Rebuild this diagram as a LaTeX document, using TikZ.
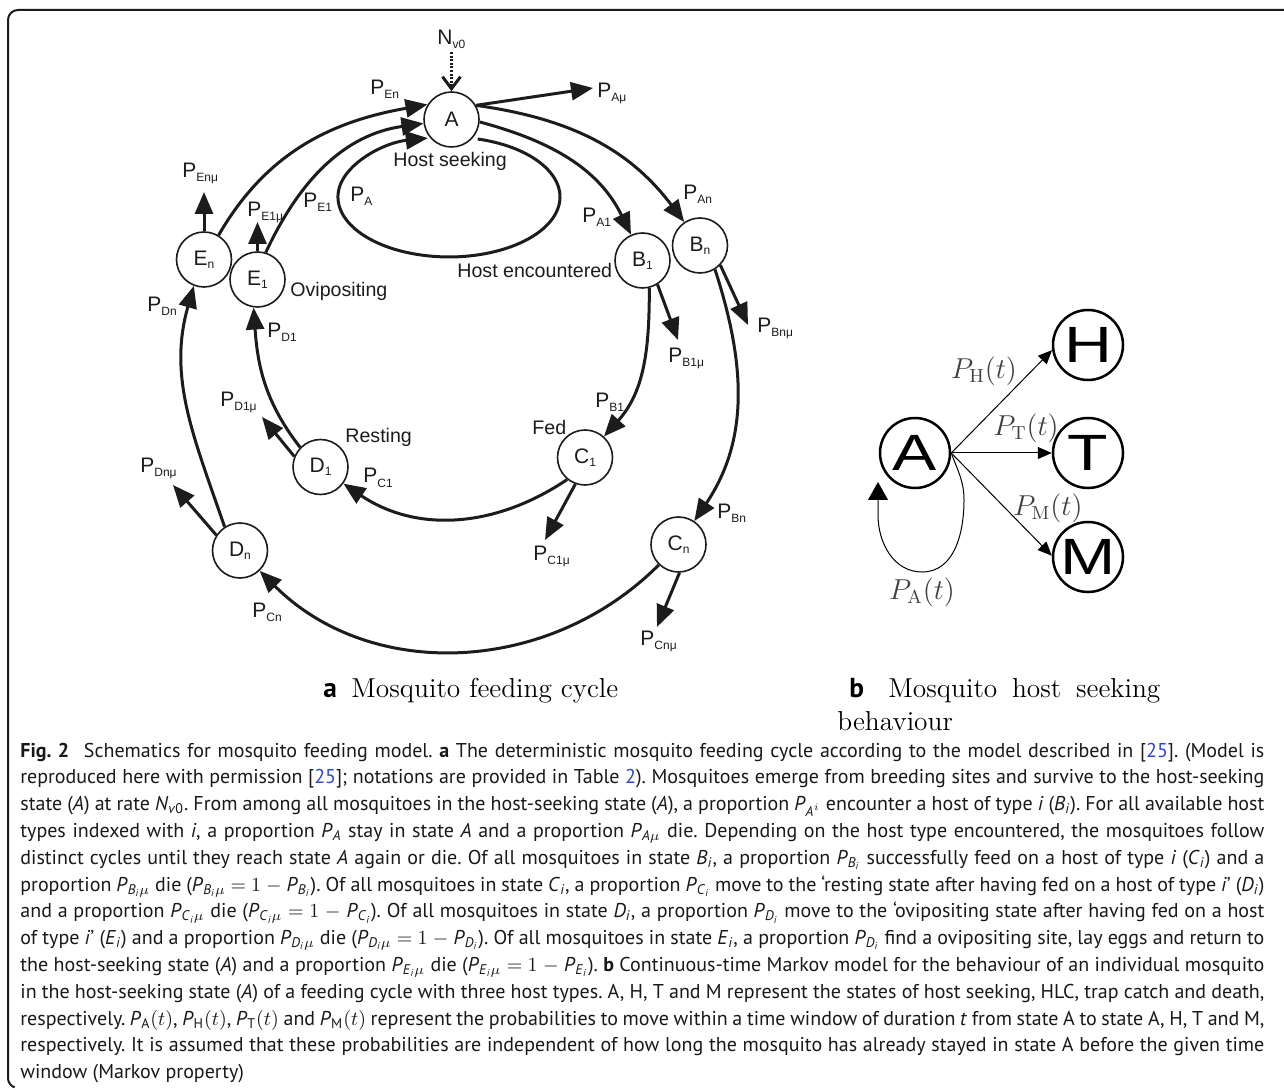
\documentclass[tikz,border=0pt]{standalone}
\usepackage{fontspec}
\newfontfamily\arialf{Liberation Sans}
\newfontfamily\ptsans{PT Sans}
\usetikzlibrary{arrows.meta}
\frenchspacing
\definecolor{ink}{RGB}{28,28,28}
\definecolor{linkblue}{RGB}{45,70,215}
\newcommand\Pl[1]{P\raisebox{-2pt}{\fontsize{6}{6}\selectfont #1}}
\newcommand\Sl[2]{#1\raisebox{-1.5pt}{\fontsize{6}{6}\selectfont #2}}
\newcommand\iP{\textit{P}}
\newcommand\sbt[1]{\textsubscript{#1}}
\newcommand\lk[1]{\textcolor{linkblue}{#1}}
\newcommand\ii{\textit{i}}
\newcommand\capline[3]{\node[capt] (#1) at (20,-#2) {\makebox[622pt][s]{#3}};}
\tikzset{
  st/.style={circle, draw=ink, line width=0.8pt, minimum size=27.5pt, inner sep=0pt, text=ink, font=\arialf\fontsize{10.5}{11}\selectfont},
  tr/.style={draw=ink, line width=1.5pt, -{Triangle[length=11pt,width=9pt]}},
  plab/.style={anchor=base west, inner sep=0pt, text=ink, font=\arialf\fontsize{10.5}{11}\selectfont},
  tlab/.style={anchor=base west, inner sep=0pt, text=ink, font=\arialf\fontsize{9.8}{11}\selectfont},
  bst/.style={circle, draw=black, line width=1.25pt, minimum size=35pt, inner sep=0pt, font=\arialf\fontsize{25.5}{26}\selectfont},
  btr/.style={draw=black, line width=0.5pt, -{Triangle[length=7pt,width=6pt]}},
  blab/.style={inner sep=0pt, text=black!75, font=\fontsize{13.5}{14}\selectfont},
  capt/.style={anchor=base west, inner sep=0pt, text=black!90, font=\ptsans\fontsize{10}{11}\selectfont\frenchspacing},
  subcap/.style={anchor=base west, inner sep=0pt, font=\fontsize{13.7}{16}\selectfont},
  subbold/.style={anchor=base west, inner sep=0pt, font=\ptsans\bfseries\fontsize{13.7}{16}\selectfont},
}
\begin{document}
\begin{tikzpicture}[x=0.5pt,y=0.5pt]
\useasboundingbox (0,0) rectangle (1284,-1090);
\fill[white] (0,0) rectangle (1284,-1090);
% frame
\draw[ink, line width=1pt] (1284,-10) -- (18,-10) arc[start angle=90,end angle=180,radius=5pt] -- (8,-1078) arc[start angle=180,end angle=250,radius=5pt];

% ---------- panel a: states ----------
\node[st] (A) at (451.5,-119.5) {A};
\node[st] (B1) at (642.5,-260.5) {\Sl{B}{1}};
\node[st] (Bn) at (700,-245.5) {\Sl{B}{n}};
\node[st] (C1) at (585,-457.5) {\Sl{C}{1}};
\node[st] (Cn) at (678.5,-544.5) {\Sl{C}{n}};
\node[st] (D1) at (320.5,-467) {\Sl{D}{1}};
\node[st] (Dn) at (240,-550.5) {\Sl{D}{n}};
\node[st] (E1) at (257.5,-279.5) {\Sl{E}{1}};
\node[st] (En) at (204,-259.5) {\Sl{E}{n}};

% ---------- panel a: transitions ----------
\draw[tr] (A.-5) to[out=-15,in=116] (B1.114);
\draw[tr] (A.30) to[out=-8,in=127] (Bn.124);
\coordinate (amu) at (593,-88);
\draw[tr] (A.30) -- (amu);
\draw[tr] (B1.-76) to[out=-90,in=48] (C1.48);
\coordinate (b1mu) at (678,-340);
\draw[tr] (B1.-58) -- (b1mu);
\draw[tr] (Bn.-58) to[out=-72,in=56] (Cn.56);
\coordinate (bnmu) at (748,-325);
\draw[tr] (Bn.-44) -- (bnmu);
\draw[tr] (C1.-129) to[out=-146,in=-34] (D1.-36);
\coordinate (c1mu) at (545,-540);
\draw[tr] (C1.-110) -- (c1mu);
\draw[tr] (Cn.-134) to[out=-135,in=-45] (Dn.-46);
\coordinate (cnmu) at (657,-627);
\draw[tr] (Cn.-88) -- (cnmu);
\draw[tr] (D1.136) to[out=128,in=-86] (E1.-98);
\coordinate (d1mu) at (262,-417);
\draw[tr] (D1.158) -- (d1mu);
\draw[tr] (Dn.123) to[out=109,in=-106] (En.-111);
\coordinate (dnmu) at (173,-485);
\draw[tr] (Dn.147) -- (dnmu);
\draw[tr] (En.59) to[out=60,in=190] (A.148);
\coordinate (enmu) at (204,-192);
\draw[tr] (En.90) -- (enmu);
\draw[tr] (E1.73) to[out=65,in=188] (A.188);
\coordinate (e1mu) at (257.5,-222);
\draw[tr] (E1.90) -- (e1mu);
\coordinate (lp) at (477.7,-139);
\draw[tr] (lp) arc[start angle=75,end angle=-259,x radius=55.5pt,y radius=30pt];
\coordinate (nv) at (451.5,-52);
\draw[ink, line width=1.5pt, dash pattern=on 1pt off 0.8pt, -{Straight Barb[length=6pt,width=9pt]}] (nv) -- (A);

% ---------- panel a: labels ----------
\node[plab] (lNv) at (437,-45) {N\raisebox{-2pt}{\fontsize{6}{6}\selectfont v0}};
\node[plab] (lEn) at (370,-95) {\Pl{En}};
\node[plab] (lAmu) at (597,-98) {\Pl{Aμ}};
\node[plab] (lA1) at (582,-223) {\Pl{A1}};
\node[plab] (lAn) at (683,-200) {\Pl{An}};
\node[plab] (lB1) at (595,-408) {\Pl{B1}};
\node[plab] (lB1mu) at (668,-363) {\Pl{B1μ}};
\node[plab] (lBn) at (717,-518) {\Pl{Bn}};
\node[plab] (lBnmu) at (757,-333) {\Pl{Bnμ}};
\node[plab] (lCnmu) at (640,-645) {\Pl{Cnμ}};
\node[plab] (lC1) at (363,-483) {\Pl{C1}};
\node[plab] (lC1mu) at (533,-560) {\Pl{C1μ}};
\node[plab] (lCn) at (252,-617) {\Pl{Cn}};
\node[plab] (lD1) at (267,-338) {\Pl{D1}};
\node[plab] (lD1mu) at (220,-407) {\Pl{D1μ}};
\node[plab] (lDnmu) at (140,-473) {\Pl{Dnμ}};
\node[plab] (lDn) at (147,-312) {\Pl{Dn}};
\node[plab] (lEnmu) at (182,-178) {\Pl{Enμ}};
\node[plab] (lE1mu) at (247,-217) {\Pl{E1μ}};
\node[plab] (lE1) at (303,-208) {\Pl{E1}};
\node[plab] (lA) at (350,-202) {\Pl{A}};
\node[tlab] (hs) at (393,-167) {Host seeking};
\node[tlab] (he) at (457,-278) {Host encountered};
\node[tlab] (ov) at (290,-297) {Ovipositing};
\node[tlab] (rs) at (345,-443) {Resting};
\node[tlab] (fd) at (532,-435) {Fed};

% ---------- panel b ----------
\node[bst] (bA) at (915,-453) {\scalebox{1.3}[1]{A}};
\node[bst] (bH) at (1088,-345) {\scalebox{1.3}[1]{H}};
\node[bst] (bT) at (1088,-453) {\scalebox{1.3}[1]{T}};
\node[bst] (bM) at (1088,-557) {\scalebox{1.3}[1]{M}};
\draw[btr] (bA.east) -- (bH.188);
\draw[btr] (bA.east) -- (bT.west);
\draw[btr] (bA.east) -- (bM.178);
\coordinate (q1) at (964,-500);
\coordinate (q2) at (922,-572);
\coordinate (q3) at (878,-515);
\coordinate (q4) at (878,-482);
\draw[draw=black, line width=0.5pt, -{Triangle[length=9pt,width=10pt]}] (bA.east) to[out=-70,in=90] (q1) to[out=-90,in=0] (q2) to[out=180,in=-90] (q3) -- (q4);
\node[blab] (pH) at (984,-371) {$P_{\mathrm{H}}(t)$};
\node[blab] (pT) at (1026,-428) {$P_{\mathrm{T}}(t)$};
\node[blab] (pM) at (1048,-508) {$P_{\mathrm{M}}(t)$};
\node[blab] (pA) at (922,-592) {$P_{\mathrm{A}}(t)$};

% ---------- sub-captions ----------
\node[subbold] (sa) at (323,-697) {a};
\node[subcap] (sat) at (351,-697) {Mosquito feeding cycle};
\node[subbold] (sb) at (849,-697) {b};
\node[subcap] (sbl1) at (888,-697) {\makebox[136pt][s]{Mosquito host seeking}};
\node[subcap] (sbl2) at (837,-730) {behaviour};

% ---------- caption ----------
\capline{cap1}{757}{\textbf{Fig.\ 2}\hspace{4pt} Schematics for mosquito feeding model. \textbf{a} The deterministic mosquito feeding cycle according to the model described in [\lk{25}]. (Model is}
\capline{cap2}{783.8}{reproduced here with permission [\lk{25}]; notations are provided in Table \lk{2}). Mosquitoes emerge from breeding sites and survive to the host-seeking}
\capline{cap3}{810.6}{state (\textit{A}) at rate \textit{N}\sbt{\textit{v}0}. From among all mosquitoes in the host-seeking state (\textit{A}), a proportion \iP\sbt{\textit{A}$^{i}$} encounter a host of type \ii\ (\textit{B}\sbt{\ii}). For all available host}
\capline{cap4}{837.4}{types indexed with \ii, a proportion \iP\sbt{\textit{A}} stay in state \textit{A} and a proportion \iP\sbt{\textit{A}$\mu$} die. Depending on the host type encountered, the mosquitoes follow}
\capline{cap5}{864.2}{distinct cycles until they reach state \textit{A} again or die. Of all mosquitoes in state \textit{B}\sbt{\ii}, a proportion \iP\sbt{\textit{B}\sbt{\ii}} successfully feed on a host of type \ii\ (\textit{C}\sbt{\ii}) and a}
\capline{cap6}{891}{proportion \iP\sbt{\textit{B}\sbt{\ii}$\mu$} die (\iP\sbt{\textit{B}\sbt{\ii}$\mu$} $=$ $1$ $-$ \iP\sbt{\textit{B}\sbt{\ii}}). Of all mosquitoes in state \textit{C}\sbt{\ii}, a proportion \iP\sbt{\textit{C}\sbt{\ii}} move to the ‘resting state after having fed on a host of type \ii’ (\textit{D}\sbt{\ii})}
\capline{cap7}{917.8}{and a proportion \iP\sbt{\textit{C}\sbt{\ii}$\mu$} die (\iP\sbt{\textit{C}\sbt{\ii}$\mu$} $=$ $1$ $-$ \iP\sbt{\textit{C}\sbt{\ii}}). Of all mosquitoes in state \textit{D}\sbt{\ii}, a proportion \iP\sbt{\textit{D}\sbt{\ii}} move to the ‘ovipositing state after having fed on a host}
\capline{cap8}{944.6}{of type \ii’ (\textit{E}\sbt{\ii}) and a proportion \iP\sbt{\textit{D}\sbt{\ii}$\mu$} die (\iP\sbt{\textit{D}\sbt{\ii}$\mu$} $=$ $1$ $-$ \iP\sbt{\textit{D}\sbt{\ii}}). Of all mosquitoes in state \textit{E}\sbt{\ii}, a proportion \iP\sbt{\textit{D}\sbt{\ii}} find a ovipositing site, lay eggs and return to}
\capline{cap9}{971.4}{the host-seeking state (\textit{A}) and a proportion \iP\sbt{\textit{E}\sbt{\ii}$\mu$} die (\iP\sbt{\textit{E}\sbt{\ii}$\mu$} $=$ $1$ $-$ \iP\sbt{\textit{E}\sbt{\ii}}). \textbf{b} Continuous-time Markov model for the behaviour of an individual mosquito}
\capline{cap10}{998.2}{in the host-seeking state (\textit{A}) of a feeding cycle with three host types. A, H, T and M represent the states of host seeking, HLC, trap catch and death,}
\capline{cap11}{1025}{respectively. \iP\sbt{A}$(t)$, \iP\sbt{H}$(t)$, \iP\sbt{T}$(t)$ and \iP\sbt{M}$(t)$ represent the probabilities to move within a time window of duration \textit{t} from state A to state A, H, T and M,}
\capline{cap12}{1051.8}{respectively. It is assumed that these probabilities are independent of how long the mosquito has already stayed in state A before the given time}
\node[capt] (cap13) at (20,-1078.6) {window (Markov property)};
\end{tikzpicture}
\end{document}
